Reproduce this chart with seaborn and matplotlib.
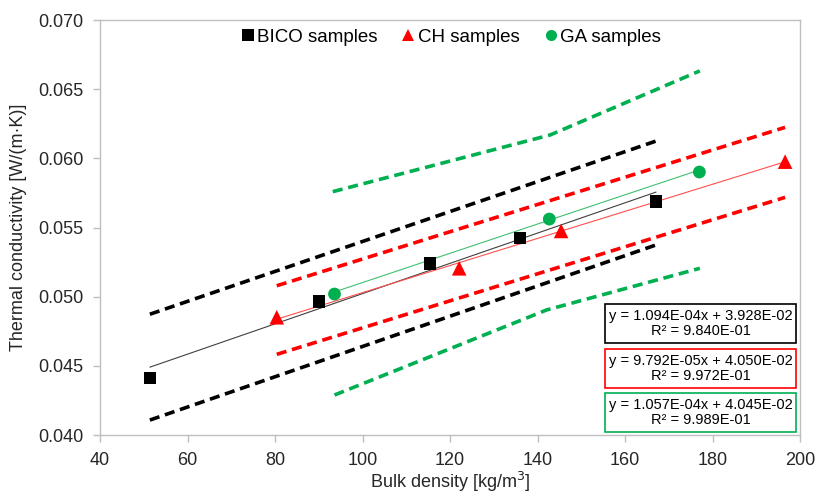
import numpy as np
import pandas as pd
import matplotlib
matplotlib.use("Agg")
import matplotlib.pyplot as plt
import seaborn as sns
from matplotlib.patches import Rectangle
from matplotlib.lines import Line2D

# ---- data ----
bico_x = [51.4, 90.1, 115.4, 136.0, 167.1]
bico_y = [0.04414, 0.04964, 0.05241, 0.05426, 0.05687]
ch_x = [80.4, 122.1, 145.4, 196.6]
ch_y = [0.04851, 0.05205, 0.05475, 0.05976]
ga_x = [93.6, 142.7, 177.0]
ga_y = [0.05019, 0.05561, 0.05901]

# linear fits (as shown in the chart)
fit_slope = [1.094e-04, 9.792e-05, 1.057e-04]
fit_icpt = [3.928e-02, 4.050e-02, 4.045e-02]
fit_r2 = ["9.840E-01", "9.972E-01", "9.989E-01"]
fit_slope_txt = ["1.094E-04", "9.792E-05", "1.057E-04"]
fit_icpt_txt = ["3.928E-02", "4.050E-02", "4.045E-02"]

# dashed bounds
bico_band_x = [51.4, 167.1]
bico_upper = [0.04873, 0.06125]
bico_lower = [0.04108, 0.05374]
ch_band_x = [80.4, 196.6]
ch_upper = [0.05079, 0.06224]
ch_lower = [0.04583, 0.05718]
ga_upper_x = [93.2, 142.9, 177.1]
ga_upper = [0.05759, 0.06169, 0.06632]
ga_lower_x = [93.6, 142.1, 177.1]
ga_lower = [0.04289, 0.04904, 0.05205]

series = ["BICO samples", "CH samples", "GA samples"]
colors = ["#000000", "#FF0000", "#00B050"]
fit_colors = ["#404040", "#FF5050", "#40C070"]
markers = ["s", "^", "o"]
marker_area = [80, 110, 85]

sns.set_theme(style="white")
plt.rcParams["font.family"] = ["Liberation Sans", "DejaVu Sans"]

fig = plt.figure(figsize=(8.16, 4.95), dpi=100)
ax = fig.add_axes([100 / 816, 1 - 435 / 495, 700 / 816, 415 / 495])

# dashed bands
bands = [
    (bico_band_x, bico_upper, colors[0]), (bico_band_x, bico_lower, colors[0]),
    (ch_band_x, ch_upper, colors[1]), (ch_band_x, ch_lower, colors[1]),
    (ga_upper_x, ga_upper, colors[2]), (ga_lower_x, ga_lower, colors[2]),
]
for bx, by, c in bands:
    sns.lineplot(x=bx, y=by, color=c, lw=2.6, ax=ax, estimator=None, sort=False)
    ax.lines[-1].set_dashes((2.8, 1.6))
    ax.lines[-1].set_dash_capstyle("butt")

# trend lines
xs_all = [bico_x, ch_x, ga_x]
ys_all = [bico_y, ch_y, ga_y]
for i in range(3):
    xx = [min(xs_all[i]), max(xs_all[i])]
    yy = [fit_slope[i] * v + fit_icpt[i] for v in xx]
    sns.lineplot(x=xx, y=yy, color=fit_colors[i], lw=0.8, ax=ax, estimator=None)

# points
for i in range(3):
    df = pd.DataFrame({"x": xs_all[i], "y": ys_all[i]})
    sns.scatterplot(data=df, x="x", y="y", marker=markers[i], s=marker_area[i],
                    color=colors[i], edgecolor="none", ax=ax, zorder=6, legend=False)

ax.set_xlim(40, 200)
ax.set_ylim(0.040, 0.070)
ax.set_xticks(np.arange(40, 201, 20))
ax.set_yticks(np.arange(0.040, 0.0701, 0.005))
ax.yaxis.set_major_formatter(matplotlib.ticker.FormatStrFormatter("%.3f"))
ax.tick_params(axis="both", direction="out", length=5, width=1, color="#BFBFBF",
               labelsize=13, labelcolor="#262626", pad=7)
ax.tick_params(left=True, bottom=True)
for sp in ax.spines.values():
    sp.set_color("#BFBFBF")
    sp.set_linewidth(1)
ax.grid(False)

ax.set_xlabel("Bulk density [kg/m$^3$]", fontsize=13, color="#262626", labelpad=1)
ax.set_ylabel("Thermal conductivity [W/(m·K)]", fontsize=13, color="#262626", labelpad=8)

# legend
handles = [Line2D([], [], ls="none", marker=markers[i], color=colors[i],
                  markersize=[8, 9, 8][i], markeredgewidth=0) for i in range(3)]
ax.legend(handles, series, loc="upper center", bbox_to_anchor=(0.5, 1.02), ncol=3,
          frameon=False, fontsize=13.5, handletextpad=0.05, columnspacing=1.2,
          handlelength=0.9, labelcolor="#000000")

# equation boxes (figure pixel coordinates -> axes fraction)
def px2ax(px, py):
    return ((px - 100) / 700, (435 - py) / 415)

box_tops = [304, 349, 393]
for i in range(3):
    x0, y1 = px2ax(605, box_tops[i])
    x1, y0 = px2ax(796, box_tops[i] + 38.5)
    ax.add_patch(Rectangle((x0, y0), x1 - x0, y1 - y0, transform=ax.transAxes,
                           fc="white", ec=colors[i], lw=1.2, zorder=8))
    txt = f"y = {fit_slope_txt[i]}x + {fit_icpt_txt[i]}\nR² = {fit_r2[i]}"
    ax.text((x0 + x1) / 2, (y0 + y1) / 2, txt, transform=ax.transAxes,
            ha="center", va="center", multialignment="center", fontsize=10.5,
            color="#000000", zorder=9, linespacing=1.05)

fig.savefig("out.png", dpi=100)
